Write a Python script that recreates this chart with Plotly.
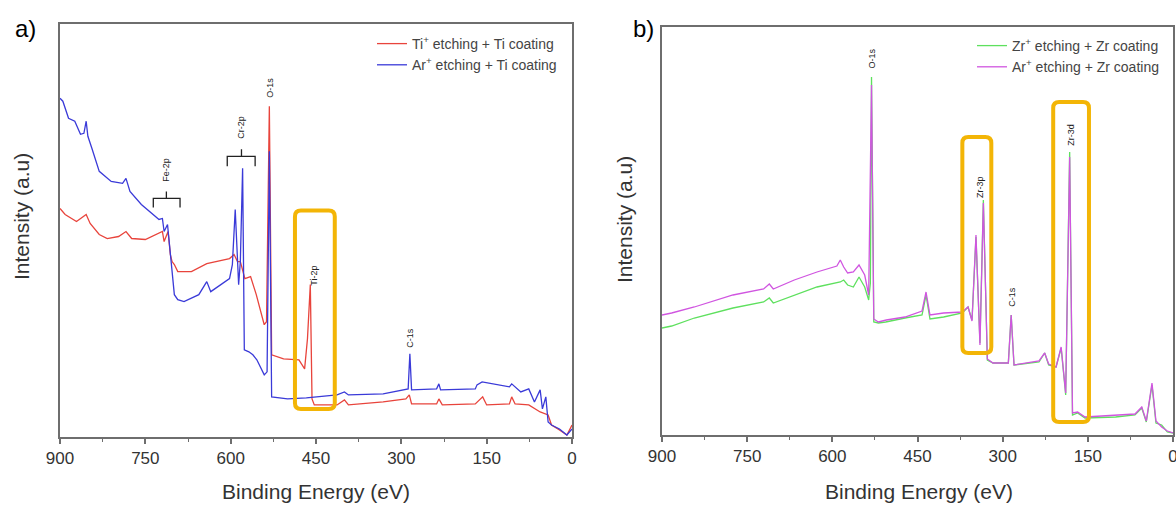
import plotly.graph_objects as go

# ---------------- Panel a data (Binding energy eV, intensity a.u.) ----------------
a_red_ev = [900, 891, 871, 854, 847, 831, 817, 797, 784, 774, 750, 730, 720, 717, 710, 706, 703, 699,
            693, 669, 642, 602, 594, 588, 583, 575, 565, 555, 541, 537, 532, 528, 507, 480, 470, 465,
            460, 457, 453, 413, 400, 393, 332, 292, 286, 282, 238, 234, 228, 170, 157, 150, 110, 106,
            100, 76, 56, 42, 36, 22, 9, 0]
a_red_int = [228, 222, 215, 222, 213, 202, 198, 200, 205, 198, 197, 202, 205, 195, 205, 182, 175, 172,
             165, 165, 173, 178, 182, 175, 175, 158, 160, 142, 112, 115, 330, 82, 78, 77, 68, 98,
             152, 38, 32, 32, 37, 32, 35, 38, 42, 33, 33, 38, 32, 33, 40, 32, 33, 40,
             33, 32, 25, 22, 12, 7, 2, 12]

a_blue_ev = [900, 895, 885, 874, 864, 858, 854, 851, 844, 831, 810, 790, 784, 777, 757, 736, 726, 720,
             717, 711, 706, 699, 693, 682, 656, 642, 635, 602, 597, 592, 586, 583, 579, 576, 568, 561,
             554, 541, 536, 532, 528, 500, 467, 413, 400, 393, 332, 298, 288, 285, 282, 238, 234, 231,
             170, 167, 158, 110, 106, 90, 76, 66, 56, 52, 46, 42, 36, 22, 9, 0]
a_blue_int = [338, 335, 318, 315, 302, 303, 315, 300, 288, 265, 255, 253, 258, 245, 232, 222, 217, 218,
              205, 212, 182, 142, 137, 135, 142, 155, 145, 158, 172, 227, 152, 175, 268, 87, 85, 82,
              77, 62, 65, 285, 40, 38, 39, 42, 45, 42, 43, 47, 48, 83, 47, 48, 53, 47,
              48, 52, 55, 50, 53, 45, 48, 35, 47, 28, 40, 15, 12, 8, 2, 8]

# ---------------- Panel b data ----------------
b_green_ev = [900, 883, 843, 775, 721, 711, 704, 667, 627, 586, 580, 573, 563, 553, 543, 536, 533, 531,
              527, 519, 506, 472, 442, 435, 428, 404, 371, 361, 354, 347, 340, 334, 327, 317, 290, 285,
              280, 236, 226, 219, 206, 197, 189, 182, 177, 168, 155, 101, 67, 55, 47, 37, 30, 20, 10, 0]
b_green_int = [107, 109, 117, 127, 133, 137, 132, 140, 148, 153, 155, 150, 148, 158, 148, 135, 152, 358,
               113, 112, 113, 117, 120, 140, 116, 118, 122, 128, 115, 198, 92, 235, 75, 72, 72, 120,
               70, 73, 82, 70, 68, 87, 40, 283, 20, 22, 17, 18, 20, 27, 13, 50, 12, 10, 3, 2]

b_mag_ev = [900, 883, 843, 775, 721, 711, 704, 667, 627, 592, 586, 580, 573, 563, 553, 543, 536, 531,
            527, 519, 505, 472, 442, 435, 428, 404, 371, 361, 354, 347, 340, 334, 327, 317, 290, 285,
            280, 236, 226, 219, 206, 197, 189, 182, 177, 168, 155, 101, 67, 55, 47, 37, 30, 20, 10, 0]
b_mag_int = [120, 122, 128, 140, 146, 151, 146, 155, 163, 169, 175, 168, 162, 163, 170, 160, 140, 350,
             116, 113, 115, 118, 124, 143, 120, 122, 123, 128, 114, 200, 90, 232, 76, 72, 72, 120,
             70, 74, 82, 71, 68, 88, 42, 278, 22, 23, 18, 20, 21, 28, 14, 52, 14, 8, 4, 2]

a_names = ["Ti<sup>+</sup> etching + Ti coating", "Ar<sup>+</sup> etching + Ti coating"]
b_names = ["Zr<sup>+</sup> etching + Zr coating", "Ar<sup>+</sup> etching + Zr coating"]

a_peaks = [("Fe-2p", 713, 267), ("Cr-2p", 581, 309), ("O-1s", 530, 349), ("Ti-2p", 455, 161), ("C-1s", 285, 99)]
b_peaks = [("O-1s", 531, 376), ("Zr-3p", 340, 248), ("C-1s", 284, 138), ("Zr-3d", 180, 300)]

x_ticks = [900, 750, 600, 450, 300, 150, 0]

# ---------------- Figure ----------------
RED, BLUE, GREEN, MAG = "#e8443c", "#3a3ad8", "#5ee05e", "#d055e0"
FONT = "Liberation Sans, Arial, sans-serif"
BOX = "#f3b506"
FRAME = "#6e6e6e"

fig = go.Figure()
fig.add_trace(go.Scatter(x=a_red_ev, y=a_red_int, mode="lines", name=a_names[0],
                         line=dict(color=RED, width=1.3), xaxis="x", yaxis="y", legend="legend"))
fig.add_trace(go.Scatter(x=a_blue_ev, y=a_blue_int, mode="lines", name=a_names[1],
                         line=dict(color=BLUE, width=1.3), xaxis="x", yaxis="y", legend="legend"))
fig.add_trace(go.Scatter(x=b_green_ev, y=b_green_int, mode="lines", name=b_names[0],
                         line=dict(color=GREEN, width=1.3), xaxis="x2", yaxis="y2", legend="legend2"))
fig.add_trace(go.Scatter(x=b_mag_ev, y=b_mag_int, mode="lines", name=b_names[1],
                         line=dict(color=MAG, width=1.3), xaxis="x2", yaxis="y2", legend="legend2"))

W, H = 1176, 505

def px(x):
    return x / W
def py(y):
    return (H - y) / H
def xd(l, r):
    return [px(l), px(r)]
def yd(top, bot):
    return [py(bot), py(top)]

xcommon = dict(range=[900, 0], tickvals=x_ticks, ticks="outside", ticklen=5, tickcolor=FRAME, tickwidth=1.5,
               minor=dict(tickvals=[825, 675, 525, 375, 225, 75], ticks="outside", ticklen=3,
                          tickcolor=FRAME, tickwidth=1.2),
               showline=True, mirror=True, linecolor=FRAME, linewidth=2, showgrid=False, zeroline=False,
               automargin=False, ticklabeloverflow="allow",
               tickfont=dict(family=FONT, size=17, color="#333"))
ycommon = dict(showticklabels=False, ticks="", showline=True, mirror=True, linecolor=FRAME,
               linewidth=2, showgrid=False, zeroline=False, automargin=False)

fig.update_layout(
    width=W, height=H, margin=dict(l=0, r=0, t=0, b=0, autoexpand=False),
    paper_bgcolor="white", plot_bgcolor="white",
    xaxis=dict(domain=xd(60, 572), anchor="y", **xcommon),
    yaxis=dict(domain=yd(24, 437), anchor="x", range=[0, 412], **ycommon),
    xaxis2=dict(domain=xd(662, 1173), anchor="y2", **xcommon),
    yaxis2=dict(domain=yd(27, 435), anchor="x2", range=[0, 408], **ycommon),
    legend=dict(x=px(562), y=py(28), xanchor="right", yanchor="top", bgcolor="rgba(0,0,0,0)",
                font=dict(family=FONT, size=14, color="#444"), tracegroupgap=0, itemwidth=30),
    legend2=dict(x=px(1164), y=py(30), xanchor="right", yanchor="top", bgcolor="rgba(0,0,0,0)",
                 font=dict(family=FONT, size=14, color="#444"), tracegroupgap=0, itemwidth=30),
    showlegend=True,
)

# peak labels
for lab, xv, yv in a_peaks:
    fig.add_annotation(x=xv, y=yv, xref="x", yref="y", text=lab, textangle=-90, showarrow=False,
                       font=dict(family=FONT, size=9, color="#222"))
for lab, xv, yv in b_peaks:
    fig.add_annotation(x=xv, y=yv, xref="x2", yref="y2", text=lab, textangle=-90, showarrow=False,
                       font=dict(family=FONT, size=9, color="#222"))

# brackets
def bracket(xl, xr, yb, yt, xc, ytip, xr_ref, yr_ref):
    path = f"M {xl},{yb} L {xl},{yt} L {xr},{yt} L {xr},{yb} M {xc},{yt} L {xc},{ytip}"
    fig.add_shape(type="path", path=path, xref=xr_ref, yref=yr_ref, line=dict(color="#222", width=1.3))

bracket(736, 689, 229, 238, 713, 245, "x", "y")
bracket(606, 557, 270, 280, 581, 287, "x", "y")

# rounded highlight boxes
def rbox(xa, xb, yb, yt, xr_ref, yr_ref, rx=10.5, ry=6):
    xl, xr = min(xa, xb), max(xa, xb)
    p = (f"M {xl+rx},{yb} L {xr-rx},{yb} Q {xr},{yb} {xr},{yb+ry} L {xr},{yt-ry} "
         f"Q {xr},{yt} {xr-rx},{yt} L {xl+rx},{yt} Q {xl},{yt} {xl},{yt-ry} "
         f"L {xl},{yb+ry} Q {xl},{yb} {xl+rx},{yb} Z")
    fig.add_shape(type="path", path=p, xref=xr_ref, yref=yr_ref, line=dict(color=BOX, width=4))

rbox(487, 417, 28, 226, "x", "y")
rbox(371, 320, 82, 298, "x2", "y2")
rbox(211, 148, 13, 333, "x2", "y2")

# axis titles and panel labels
def pann(text, x, y, size, angle=0, color="#333"):
    fig.add_annotation(x=px(x), y=py(y), xref="paper", yref="paper", text=text, showarrow=False,
                       textangle=angle, font=dict(family=FONT, size=size, color=color),
                       xanchor="center", yanchor="middle")

pann("Intensity (a.u)", 21, 217, 21, -90)
pann("Intensity (a.u)", 624, 220, 21, -90)
pann("Binding Energy (eV)", 316, 491, 21)
pann("Binding Energy (eV)", 919, 491, 21)
pann("a)", 25, 28, 24, 0, "#000")
pann("b)", 643, 28, 24, 0, "#000")

fig.write_html("out.html", config={"displayModeBar": False},
               post_script="document.body.style.margin='0px';document.body.style.overflow='hidden';")
